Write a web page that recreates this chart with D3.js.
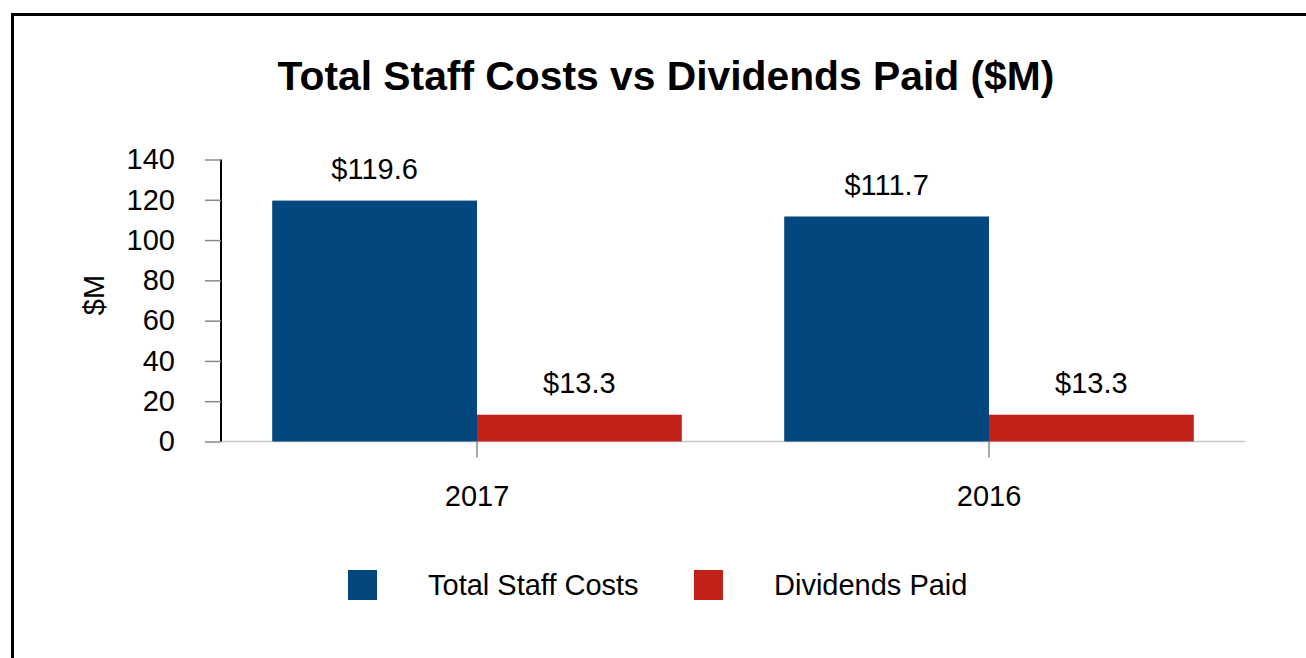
<!DOCTYPE html>
<html>
<head>
<meta charset="utf-8">
<script src="https://d3js.org/d3.v7.min.js"></script>
<style>
  body { margin: 0; background: #fff; }
  * { font-family: "Liberation Sans", Arial, sans-serif; }
</style>
</head>
<body>
<script>
// data
var years = ["2017", "2016"];
var seriesNames = ["Total Staff Costs", "Dividends Paid"];
var staffCosts = [119.6, 111.7];
var dividends = [13.3, 13.3];
var yTicks = [0, 20, 40, 60, 80, 100, 120, 140];
var colors = ["#02477d", "#c0221a"];

var W = 1306, H = 658;
var margin = {top: 159.5, left: 221, right: 61, bottom: 216.5};
var width = W - margin.left - margin.right,
    height = H - margin.top - margin.bottom;
var fs = "29px";

var svg = d3.select("body").append("svg")
    .attr("width", W)
    .attr("height", H);

// frame (only top and left edges visible)
svg.append("path")
    .attr("d", "M12.5," + H + "V14.5H" + W)
    .attr("fill", "none")
    .attr("stroke", "#000")
    .attr("stroke-width", 3);

svg.append("text")
    .attr("x", 666)
    .attr("y", 90)
    .attr("text-anchor", "middle")
    .style("font-size", "40.8px")
    .style("font-weight", "bold")
    .text("Total Staff Costs vs Dividends Paid ($M)");

var g = svg.append("g")
    .attr("transform", "translate(" + margin.left + "," + margin.top + ")");

var x0 = d3.scaleBand()
    .domain(years)
    .range([0, width])
    .paddingInner(0.2)
    .paddingOuter(0.1);

var x1 = d3.scaleBand()
    .domain(seriesNames)
    .range([0, x0.bandwidth()]);

var y = d3.scaleLinear()
    .domain([0, 140])
    .range([height, 0]);

var rows = years.map(function(yr, i) {
  return {year: yr, values: [staffCosts[i], dividends[i]]};
});

// x axis baseline
g.append("line")
    .attr("x1", 0).attr("x2", width)
    .attr("y1", height).attr("y2", height)
    .attr("stroke", "#c8c8c8")
    .attr("stroke-width", 1.5);

var groups = g.selectAll(".grp")
    .data(rows)
    .enter().append("g")
    .attr("class", "grp")
    .attr("transform", function(d) { return "translate(" + x0(d.year) + ",0)"; });

groups.selectAll("rect")
    .data(function(d) { return d.values; })
    .enter().append("rect")
    .attr("x", function(d, i) { return x1(seriesNames[i]); })
    .attr("width", x1.bandwidth())
    .attr("y", function(d) { return y(d); })
    .attr("height", function(d) { return height - y(d); })
    .attr("fill", function(d, i) { return colors[i]; });

groups.selectAll(".lbl")
    .data(function(d) { return d.values; })
    .enter().append("text")
    .attr("class", "lbl")
    .attr("x", function(d, i) { return x1(seriesNames[i]) + x1.bandwidth() / 2; })
    .attr("y", function(d) { return y(d) - 22; })
    .attr("text-anchor", "middle")
    .style("font-size", fs)
    .text(function(d) { return "$" + d.toFixed(1); });

// y axis
var yAxis = g.append("g")
    .call(d3.axisLeft(y).tickValues(yTicks).tickSize(16).tickPadding(30));
yAxis.select(".domain").attr("stroke", "#000").attr("stroke-width", 2)
    .attr("d", "M0," + y(140) + "V" + y(0));
yAxis.selectAll(".tick line").attr("stroke", "#888").attr("stroke-width", 1.5);
yAxis.selectAll(".tick text")
    .style("font-size", fs)
    .attr("fill", "#000");

// x axis ticks and labels
var xAxis = g.append("g")
    .attr("transform", "translate(0," + height + ")")
    .call(d3.axisBottom(x0).tickSize(16));
xAxis.select(".domain").remove();
xAxis.selectAll(".tick line").attr("stroke", "#555").attr("stroke-width", 1);
xAxis.selectAll(".tick text")
    .attr("dy", null)
    .attr("y", 64)
    .style("font-size", fs)
    .attr("fill", "#000");

g.append("text")
    .attr("transform", "translate(-117," + (295 - margin.top) + ") rotate(-90)")
    .attr("text-anchor", "middle")
    .style("font-size", fs)
    .text("$M");

// legend
var legendX = [348, 694];
var legend = svg.selectAll(".leg")
    .data(seriesNames)
    .enter().append("g")
    .attr("class", "leg")
    .attr("transform", function(d, i) { return "translate(" + legendX[i] + ",570)"; });
legend.append("rect")
    .attr("width", 29).attr("height", 30)
    .attr("fill", function(d, i) { return colors[i]; });
legend.append("text")
    .attr("x", 80)
    .attr("y", 25)
    .style("font-size", fs)
    .text(function(d) { return d; });
</script>
</body>
</html>
